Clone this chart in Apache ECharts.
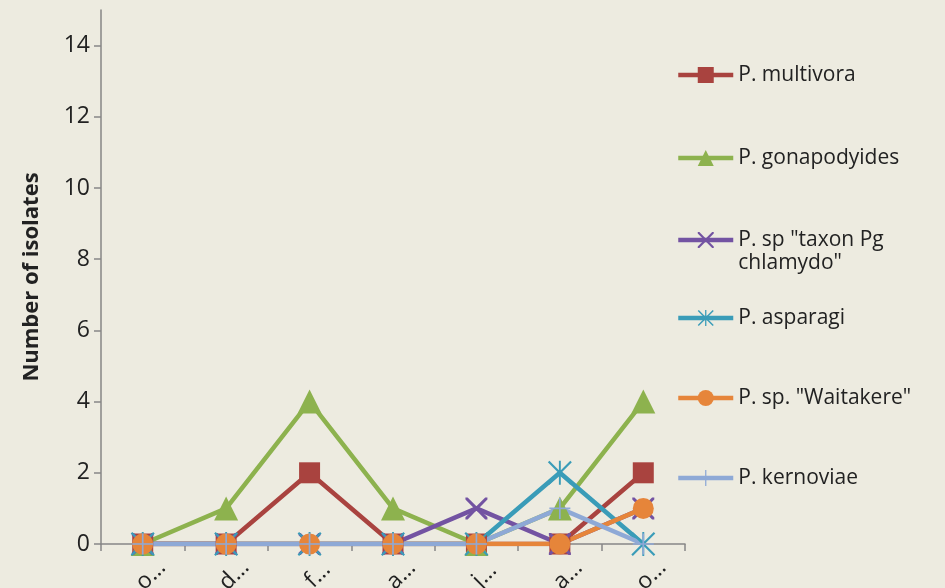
<!DOCTYPE html>
<html>
<head>
<meta charset="utf-8">
<script src="https://cdn.jsdelivr.net/npm/echarts@6/dist/echarts.min.js"></script>
<style>
  html, body { margin: 0; padding: 0; background: #EDEBE0; }
  #chart { width: 945px; height: 588px; }
</style>
</head>
<body>
<div id="chart"></div>
<script>
// Month labels along the x axis (shortened)
const categories = ['o…', 'd…', 'f…', 'a…', 'j…', 'a…', 'o…'];

// Isolate counts per species
const multivora    = [0, 0, 2, 0, 0, 0, 2];
const gonapodyides = [0, 1, 4, 1, 0, 1, 4];
const taxonPg      = [0, 0, 0, 0, 1, 0, 1];
const asparagi     = [0, 0, 0, 0, 0, 2, 0];
const waitakere    = [0, 0, 0, 0, 0, 0, 1];
const kernoviae    = [0, 0, 0, 0, 0, 1, 0];

// Y axis tick values
const yTicks = [0, 2, 4, 6, 8, 10, 12, 14];

const seriesNames = [
  'P. multivora',
  'P. gonapodyides',
  'P. sp "taxon Pg chlamydo"',
  'P. asparagi',
  'P. sp. "Waitakere"',
  'P. kernoviae'
];

const FONT = '"Open Sans", Lato, sans-serif';

// Marker shapes
const X_PATH = 'path://M0,0 L2,0 L10,8 L18,0 L20,0 L20,2 L12,10 L20,18 L20,20 L18,20 L10,12 L2,20 L0,20 L0,18 L8,10 L0,2 Z';
const STAR_PATH = 'path://M9.2,0 H10.8 V20 H9.2 Z M0,1.3 L1.3,0 L20,18.7 L18.7,20 Z M18.7,0 L20,1.3 L1.3,20 L0,18.7 Z';
const PLUS_PATH = 'path://M9.2,0 H10.8 V9.2 H20 V10.8 H10.8 V20 H9.2 V10.8 H0 V9.2 H9.2 Z';

const styles = [
  { color: '#A9433F', symbol: 'rect',     size: 21 },
  { color: '#8DB24E', symbol: 'triangle', size: 24 },
  { color: '#7353A2', symbol: X_PATH,     size: 22 },
  { color: '#3A9CB8', symbol: STAR_PATH,  size: 24 },
  { color: '#E6853A', symbol: 'circle',   size: 21 },
  { color: '#8EA9D6', symbol: PLUS_PATH,  size: 21 }
];

const values = [multivora, gonapodyides, taxonPg, asparagi, waitakere, kernoviae];

const series = values.map((data, i) => ({
  name: seriesNames[i],
  type: 'line',
  data: data,
  symbol: styles[i].symbol,
  symbolSize: styles[i].size,
  showAllSymbol: true,
  lineStyle: { width: 4.5, color: styles[i].color },
  itemStyle: { color: styles[i].color, borderWidth: 0 },
  emphasis: { disabled: true },
  animation: false
}));

// One legend block per series so each entry sits on its own row;
// the two-line entry gets a blank leading line so its first line sits on the icon
const LEGEND_LINE = 23;
const legendCenters = [75, 158, 240, 318, 398, 478];
const legends = seriesNames.map((name, i) => {
  const twoLine = i === 2;
  return {
    orient: 'vertical',
    left: 676,
    top: legendCenters[i] - (twoLine ? LEGEND_LINE * 1.5 : LEGEND_LINE / 2),
    padding: 0,
    itemWidth: 55,
    itemHeight: 20,
    itemGap: 0,
    data: [name],
    selectedMode: false,
    lineStyle: { width: 4.5 },
    formatter: twoLine ? () => '\nP. sp "taxon Pg\nchlamydo"' : undefined,
    textStyle: {
      fontFamily: FONT,
      fontSize: 21,
      color: '#222',
      lineHeight: LEGEND_LINE
    }
  };
});

const chart = echarts.init(document.getElementById('chart'));
chart.setOption({
  backgroundColor: '#EDEBE0',
  animation: false,
  textStyle: { fontFamily: FONT },
  legend: legends,
  grid: { left: 101, right: 260, top: 10, bottom: 44, containLabel: false, outerBoundsMode: 'none' },
  xAxis: {
    type: 'category',
    data: categories,
    boundaryGap: true,
    axisLine: { lineStyle: { color: '#868686', width: 1.5 } },
    axisTick: { show: true, length: 7, alignWithLabel: false, lineStyle: { color: '#868686', width: 1.5 } },
    axisLabel: {
      rotate: 45, margin: 23, align: 'center', verticalAlign: 'top',
      fontSize: 23, color: '#222', fontFamily: FONT, interval: 0
    }
  },
  yAxis: {
    type: 'value',
    min: 0,
    max: 15,
    name: 'Number of isolates',
    nameLocation: 'middle',
    nameGap: 58,
    nameTextStyle: { fontSize: 22, fontWeight: 'bold', color: '#222', fontFamily: FONT },
    axisLine: { show: true, lineStyle: { color: '#868686', width: 1.5 } },
    axisTick: { show: true, length: 7, customValues: yTicks, lineStyle: { color: '#868686', width: 1.5 } },
    axisLabel: { customValues: yTicks, margin: 11, fontSize: 23, color: '#222', fontFamily: FONT },
    splitLine: { show: false }
  },
  series: series
});
</script>
</body>
</html>
